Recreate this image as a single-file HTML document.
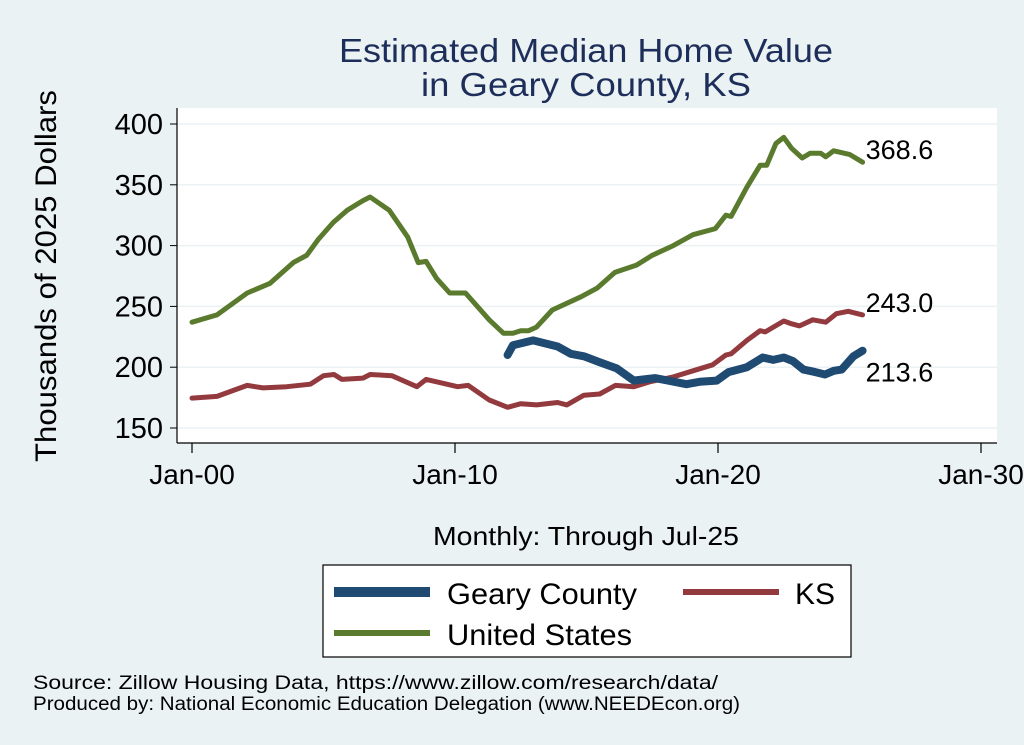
<!DOCTYPE html>
<html><head><meta charset="utf-8"><style>
html,body{margin:0;padding:0;background:#eaf2f3;}
svg{display:block;font-family:"Liberation Sans",Arial,sans-serif;}
</style></head><body>
<svg id="chart" width="1024" height="745" viewBox="0 0 1024 745">
<rect x="0" y="0" width="1024" height="745" fill="#eaf2f3"/>
<text x="586" y="62" font-size="33" fill="#1e2e5a" text-anchor="middle" textLength="494" lengthAdjust="spacingAndGlyphs">Estimated Median Home Value</text>
<text x="586" y="96" font-size="33" fill="#1e2e5a" text-anchor="middle" textLength="330" lengthAdjust="spacingAndGlyphs">in Geary County, KS</text>
<rect x="177" y="108" width="820" height="335" fill="#ffffff"/>
<g id="grid"></g>
<g id="axes"></g>
<g id="series"></g>
<text x="0" y="0" font-size="30" fill="#000" text-anchor="middle" textLength="372" lengthAdjust="spacingAndGlyphs" transform="translate(56,276) rotate(-90)">Thousands of 2025 Dollars</text>
<text x="586" y="545" font-size="26" fill="#000" text-anchor="middle" textLength="306" lengthAdjust="spacingAndGlyphs">Monthly: Through Jul-25</text>
<g>
<rect x="323" y="565" width="528" height="92" fill="#fff" stroke="#000" stroke-width="1.2"/>
<line x1="334" y1="592" x2="430" y2="592" stroke="#1f4a72" stroke-width="10"/>
<text x="447" y="604" font-size="30" textLength="190" lengthAdjust="spacingAndGlyphs">Geary County</text>
<line x1="683" y1="592" x2="779" y2="592" stroke="#933a3f" stroke-width="6"/>
<text x="795" y="604" font-size="30">KS</text>
<line x1="334" y1="633" x2="430" y2="633" stroke="#5a7a2e" stroke-width="6"/>
<text x="447" y="645" font-size="30" textLength="185" lengthAdjust="spacingAndGlyphs">United States</text>
</g>
<text x="33" y="689" font-size="19" textLength="685" lengthAdjust="spacingAndGlyphs">Source: Zillow Housing Data, https://www.zillow.com/research/data/</text>
<text x="33" y="710" font-size="19" textLength="707" lengthAdjust="spacingAndGlyphs">Produced by: National Economic Education Delegation (www.NEEDEcon.org)</text>
</svg>
<script>
const yTicks=[150,200,250,300,350,400];
const xTickYears=[0,10,20,30];
const xTickLabels=["Jan-00","Jan-10","Jan-20","Jan-30"];
const usYears=[0,0.95,2.1,2.97,3.85,4.36,4.8,5.37,5.9,6.5,6.77,7.5,8.2,8.6,8.9,9.3,9.8,10.4,11.3,11.84,12.2,12.5,12.8,13.1,13.7,14.8,15.4,16.08,16.9,17.5,18.3,19.05,19.9,20.3,20.5,21.1,21.6,21.85,22.2,22.5,22.8,23.2,23.5,23.9,24.1,24.4,25.0,25.5];
const usValues=[237,243,261,269,286,292,305,319,329,337,340,329,307,286,287,273,261,261,239,228,228,230,230,233,247,258,265,278,284,292,300,309,314,325,324,348,366,366,384,389,380,372,376,376,373,378,375,368.6];
const ksYears=[0,0.95,2.1,2.7,3.6,4.5,5.0,5.4,5.7,6.5,6.77,7.6,8.55,8.9,9.3,10.1,10.5,11.3,12.0,12.5,13.1,13.9,14.25,14.9,15.5,16.1,16.8,17.4,18.3,19.05,19.8,20.3,20.5,21.1,21.6,21.8,22.5,22.75,23.1,23.6,24.1,24.5,24.95,25.5];
const ksValues=[174.6,176,185,183,184,186,193,194,190,191,194,193,184,190,188,184,185,173,167,170,169,171,169,177,178,185,184,188,192,197,202,210,211,222,230,229,238,236,234,239,237,244,246,243];
const gearyYears=[12.0,12.2,12.97,13.9,14.4,14.9,15.5,16.15,16.8,17.6,18.1,18.8,19.3,19.95,20.4,21.1,21.7,22.1,22.5,22.85,23.25,23.7,24.07,24.4,24.7,25.15,25.5];
const gearyValues=[210,218,222,217,211,209,204,199,189,191,189,186,188,189,196,200,208,206,208,205,198,196,194,197,198,209,213.6];
const endLabels=["368.6","243.0","213.6"];

const NS="http://www.w3.org/2000/svg";
function X(yr){return 192+yr*26.3;}
function Y(v){return 428-(v-150)*1.216;}
function mk(tag,attrs,parent){const e=document.createElementNS(NS,tag);for(const k in attrs)e.setAttribute(k,attrs[k]);parent.appendChild(e);return e;}
const grid=document.getElementById('grid'),axes=document.getElementById('axes'),series=document.getElementById('series');
yTicks.forEach(v=>{
  const g=mk('line',{x1:177,x2:997,y1:Y(v),y2:Y(v),stroke:'#eaf2f3','stroke-width':1.5},grid);
  
  
  const t=mk('line',{x1:170,x2:177,y1:Y(v),y2:Y(v),stroke:'#000','stroke-width':1},axes);
  
  
  const l=mk('text',{x:163,y:Y(v)+10,'font-size':29,'text-anchor':'end'},axes);
  l.textContent=String(v);
  
  
});
const ax1=mk('line',{x1:177,x2:177,y1:108,y2:443,stroke:'#000','stroke-width':1.2},axes);


const ax2=mk('line',{x1:177,x2:997,y1:443,y2:443,stroke:'#000','stroke-width':1.2},axes);


xTickYears.forEach((yr,i)=>{
  const t=mk('line',{x1:X(yr),x2:X(yr),y1:443,y2:453,stroke:'#000','stroke-width':1.2},axes);
  
  
  const l=mk('text',{x:X(yr),y:484,'font-size':28,'text-anchor':'middle'},axes);
  l.textContent=xTickLabels[i];
  
  
});
function line(xs,vs,color,w,name){
  const d=xs.map((yr,i)=>(i?'L':'M')+X(yr).toFixed(1)+','+Y(vs[i]).toFixed(1)).join(' ');
  const p=mk('path',{d:d,fill:'none',stroke:color,'stroke-width':w,'stroke-linejoin':'round','stroke-linecap':'round'},series);
  
  
}
line(ksYears,ksValues,'#933a3f',5,'ks-line');
line(usYears,usValues,'#5a7a2e',5,'us-line');
line(gearyYears,gearyValues,'#1f4a72',8,'geary-line');
const ends=[[usYears,usValues,'us-end-label',-3],[ksYears,ksValues,'ks-end-label',-3],[gearyYears,gearyValues,'geary-end-label',31]];
ends.forEach((e,i)=>{
  const xs=e[0],vs=e[1];
  const l=mk('text',{x:X(xs[xs.length-1])+3,y:Y(vs[vs.length-1])+e[3],'font-size':27},series);
  l.textContent=endLabels[i];
  
  
});
</script>
</body></html>
